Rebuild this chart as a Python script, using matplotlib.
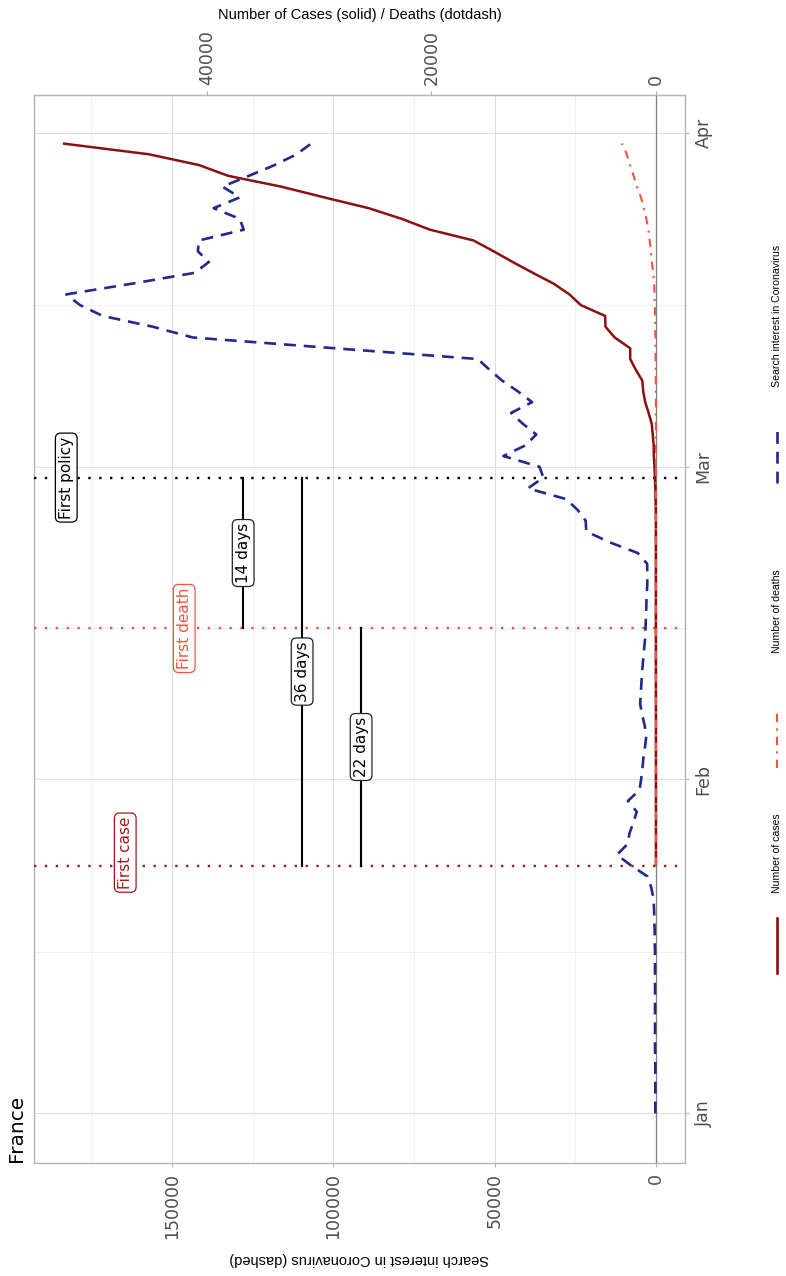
import numpy as np
import pandas as pd
import matplotlib
matplotlib.use("Agg")
import matplotlib.pyplot as plt
import matplotlib.dates as mdates
from matplotlib import font_manager
from matplotlib.lines import Line2D

# ---------------- data ----------------
search_start = "2020-01-01"
search_interest = [
    # Jan 1 - Jan 31
    200, 200, 200, 200, 200, 200, 300, 300, 300, 300,
    300, 300, 300, 300, 300, 300, 400, 400, 500, 600,
    800, 1500, 2700, 7700, 12100, 8800, 8200, 7000, 5950, 8700,
    5100,
    # Feb 1 - Feb 29
    4600, 4200, 3900, 3400, 3000, 3500, 4300, 4900, 4700, 4500,
    4300, 4000, 3700, 3400, 3250, 3100, 3000, 2900, 2700, 2700,
    2730, 5640, 14400, 21600, 21800, 24300, 27800, 39700, 34900,
    # Mar 1 - Mar 31
    36100, 47300, 40400, 37100, 41300, 44900, 38400, 42800, 47700, 51600,
    55200, 99600, 143600, 156000, 171500, 178500, 182800, 162300, 143000, 138600,
    142000, 141700, 127800, 129000, 137100, 129000, 134400, 126200, 118200, 111400,
    106850,
]

covid_start = "2020-01-24"
cases = [
    # Jan 24 - Jan 31
    2, 3, 3, 3, 4, 5, 5, 5,
    # Feb 1 - Feb 29
    6, 6, 6, 6, 6, 6, 6, 11, 11, 11, 11, 11, 11, 11, 12, 12, 12, 12, 12, 12,
    12, 12, 12, 12, 14, 18, 38, 57, 100,
    # Mar 1 - Mar 31
    130, 191, 204, 288, 380, 656, 959, 1136, 1219, 1794, 2293, 2293, 3681, 4496,
    4532, 6683, 7715, 9124, 10970, 12758, 14463, 16243, 20123, 22622, 25600,
    29551, 33402, 38105, 40708, 45170, 52827,
]
deaths = [
    # Jan 24 - Jan 31
    0, 0, 0, 0, 0, 0, 0, 0,
    # Feb 1 - Feb 29
    0, 0, 0, 0, 0, 0, 0, 0, 0, 0, 0, 0, 0, 0, 1, 1, 1, 1, 1, 1,
    1, 1, 1, 1, 1, 1, 2, 2, 2,
    # Mar 1 - Mar 31
    2, 2, 3, 4, 4, 6, 9, 11, 19, 19, 33, 48, 48, 79, 91, 91, 149, 149, 244,
    372, 450, 562, 674, 860, 1100, 1331, 1696, 1995, 2314, 2606, 3024,
]

event_names = ["First case", "First death", "First policy"]
event_dates = ["2020-01-24", "2020-02-15", "2020-02-29"]
gap_labels = ["22 days", "36 days", "14 days"]
gap_pairs = [(0, 1), (0, 2), (1, 2)]

date_ticks = ["2020-01-01", "2020-02-01", "2020-03-01", "2020-04-01"]
date_tick_labels = ["Jan", "Feb", "Mar", "Apr"]
date_minor = ["2020-01-16", "2020-02-15", "2020-03-16"]
search_ticks = [0, 50000, 100000, 150000]
search_minor = [25000, 75000, 125000, 175000]
case_ticks = [0, 20000, 40000]

legend_labels = ["Number of cases", "Number of deaths", "Search interest in Coronavirus"]

# ---------------- style ----------------
SCALE = 3.48  # cases -> search-interest axis factor
C_CASES = "#8B1010"
C_DEATHS = "#F4533F"
C_SEARCH = "#1F2A8C"
C_CASE_EV = "#A11A1A"
C_DEATH_EV = "#F4533F"
GREY_TXT = "#4D4D4D"

names = {f.name for f in font_manager.fontManager.ttflist}
if "Liberation Sans Narrow" in names:
    NARROW, NK = "Liberation Sans Narrow", 1.0
else:
    NARROW, NK = "Liberation Sans", 0.82
WIDE = "DejaVu Sans"

W, H = 786, 1276
fig = plt.figure(figsize=(W / 100, H / 100), dpi=100)
fig.patch.set_facecolor("white")


def fx(px):
    return px / W


def fy(py):
    return 1 - py / H


L, R, T, B = 34, 685, 95, 1163
ax = fig.add_axes([fx(L), fy(B), fx(R) - fx(L), fy(T) - fy(B)])

sdates = mdates.date2num(pd.date_range(search_start, periods=len(search_interest)))
cdates = mdates.date2num(pd.date_range(covid_start, periods=len(cases)))
sv = np.array(search_interest, dtype=float)
cv = np.array(cases, dtype=float)
dv = np.array(deaths, dtype=float)

ax.axvline(0, color="#808080", lw=0.9, zorder=2)
ax.plot(cv * SCALE, cdates, color=C_CASES, lw=1.8, zorder=4, solid_capstyle="butt")
ax.plot(dv * SCALE, cdates, color=C_DEATHS, lw=1.5, ls=(0, (4, 3, 1, 3)), zorder=4)
ax.plot(sv, sdates, color=C_SEARCH, lw=1.9, ls=(0, (4.5, 3)), zorder=5)

# event lines
ev = mdates.date2num(pd.to_datetime(event_dates))
ev_colors = [C_CASE_EV, C_DEATH_EV, "black"]
for d, c in zip(ev, ev_colors):
    ax.axhline(d, color=c, lw=1.7, ls=(0, (1, 3.6)), zorder=3)

smax = sv.max()
label_frac = [0.9, 0.8, 1.0]
label_shift = [1.2, 0.0, 0.0]
for name, d, c, f, sh in zip(event_names, ev, ev_colors, label_frac, label_shift):
    ax.text(smax * f, d + sh, name, rotation=90, ha="center", va="center",
            color=c, fontsize=11, family=WIDE, zorder=7,
            bbox=dict(boxstyle="round,pad=0.22,rounding_size=0.35", fc="white", ec=c, lw=0.9))

gap_frac = [0.5, 0.6, 0.7]
for lab, (i, j), f in zip(gap_labels, gap_pairs, gap_frac):
    xv = smax * f
    ax.plot([xv, xv], [ev[i], ev[j]], color="black", lw=1.5, zorder=5)
    ax.text(xv, (ev[i] + ev[j]) / 2, lab, rotation=90, ha="center", va="center",
            color="black", fontsize=11, family=WIDE, zorder=7,
            bbox=dict(boxstyle="round,pad=0.22,rounding_size=0.35", fc="white", ec="#222222", lw=0.9))

# axes limits
d0 = mdates.date2num(pd.Timestamp(search_start))
ax.set_ylim(d0 - 4.6, d0 + 90 + 4.5)
ax.set_xlim(192800, -9000)

# grid
ax.set_xticks(search_ticks)
ax.set_xticks(search_minor, minor=True)
ax.set_yticks(mdates.date2num(pd.to_datetime(date_ticks)))
ax.set_yticks(mdates.date2num(pd.to_datetime(date_minor)), minor=True)
ax.grid(which="major", color="#DEDEDE", lw=0.8)
ax.grid(which="minor", color="#EEEEEE", lw=0.6)
ax.set_axisbelow(True)

ax.set_xticklabels([str(v) for v in search_ticks], rotation=90, family=WIDE,
                   fontsize=12.5, color=GREY_TXT)
ax.yaxis.tick_right()
ax.set_yticklabels(date_tick_labels, rotation=90, family=WIDE, fontsize=12.5,
                   color=GREY_TXT, va="center")
ax.tick_params(which="major", length=3, width=0.8, color="#B3B3B3", pad=4)
ax.tick_params(which="minor", length=0)

for s in ax.spines.values():
    s.set_color("#B3B3B3")
    s.set_linewidth(1.0)

sec = ax.secondary_xaxis("top", functions=(lambda s: s / SCALE, lambda c: c * SCALE))
sec.set_xticks(case_ticks)
sec.set_xticklabels([str(v) for v in case_ticks], rotation=90, family=WIDE,
                    fontsize=12.5, color=GREY_TXT)
sec.tick_params(length=3, width=0.8, color="#B3B3B3", pad=4)
sec.spines["top"].set_color("#B3B3B3")

# titles
fig.text(fx(359.5), fy(15), "Number of Cases (solid) / Deaths (dotdash)", ha="center",
         va="center", family=NARROW, fontsize=12.8 * NK, color="black")
fig.text(fx(359.5), fy(1259), "Search interest in Coronavirus (dashed)", ha="center",
         va="center", rotation=180, family=NARROW, fontsize=12.8 * NK, color="black")
fig.text(fx(16), fy(1162), "France", ha="center", va="bottom", rotation=90,
         family=WIDE, fontsize=14.5, color="black")

# legend (vertical, bottom -> top)
LX = 777
keys = [
    dict(y0=973, y1=918, color=C_CASES, lw=1.9, ls="-"),
    dict(y0=768, y1=712, color=C_DEATHS, lw=1.5, ls=(0, (4, 3, 1, 3))),
    dict(y0=483, y1=427, color=C_SEARCH, lw=1.9, ls=(0, (4.5, 3))),
]
text_start = [893, 653, 387]
for k, lab, ts in zip(keys, legend_labels, text_start):
    fig.add_artist(Line2D([fx(LX), fx(LX)], [fy(k["y0"]), fy(k["y1"])], transform=fig.transFigure,
                          color=k["color"], lw=k["lw"], ls=k["ls"]))
    fig.text(fx(LX), fy(ts), lab, rotation=90, ha="center", va="bottom",
             family=NARROW, fontsize=9.2 * NK, color="black")

fig.savefig("out.png", dpi=100, facecolor="white")
